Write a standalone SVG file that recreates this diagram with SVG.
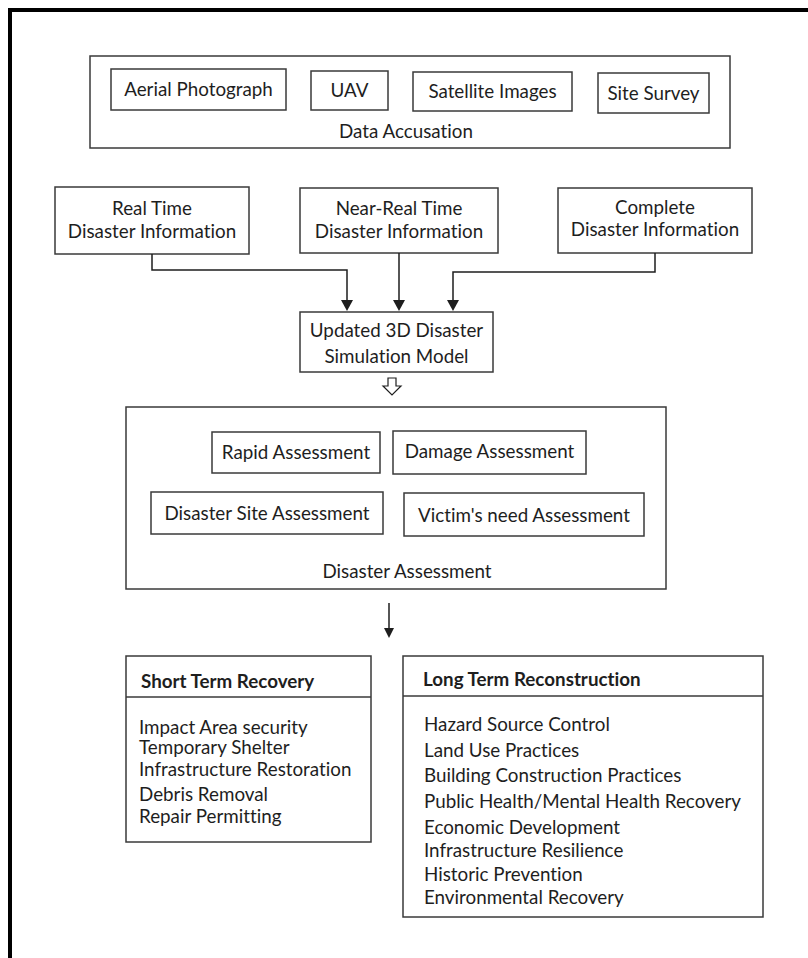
<svg xmlns="http://www.w3.org/2000/svg" width="808" height="958" viewBox="0 0 808 958">
  <style>
    .box { fill: #ffffff; stroke: #3a3a3a; stroke-width: 1.5; }
    .t { font-family: Lato, "Open Sans", sans-serif; font-size: 18.8px; fill: #1e1e1e; font-variant-ligatures: none; }
    .c { text-anchor: middle; }
    .b { font-weight: bold; }
    .edge { fill: none; stroke: #1e1e1e; stroke-width: 1.5; }
    .tip { fill: #1e1e1e; }
  </style>

  <rect width="808" height="958" fill="#ffffff"/>

  <!-- page frame: top and left rules -->
  <path d="M8,10 H808 M10,8 V958" fill="none" stroke="#000" stroke-width="4"/>

  <!-- data acquisition group -->
  <g id="data-accusation">
    <rect class="box" x="90" y="56" width="640" height="92"/>
    <text class="t c" x="406" y="138">Data Accusation</text>
  </g>
  <g id="aerial-photograph">
    <rect class="box" x="111" y="69" width="175" height="41"/>
    <text class="t c" x="198.5" y="96">Aerial Photograph</text>
  </g>
  <g id="uav">
    <rect class="box" x="311" y="71" width="77" height="39"/>
    <text class="t c" x="349.5" y="97">UAV</text>
  </g>
  <g id="satellite-images">
    <rect class="box" x="413" y="72" width="159" height="39"/>
    <text class="t c" x="492.5" y="98">Satellite Images</text>
  </g>
  <g id="site-survey">
    <rect class="box" x="598" y="73" width="111" height="40"/>
    <text class="t c" x="653.5" y="100">Site Survey</text>
  </g>

  <!-- information sources -->
  <g id="real-time">
    <rect class="box" x="55" y="187" width="194" height="67"/>
    <text class="t c" x="152" y="215">Real Time</text>
    <text class="t c" x="152" y="238">Disaster Information</text>
  </g>
  <g id="near-real-time">
    <rect class="box" x="300" y="188" width="198" height="65"/>
    <text class="t c" x="399" y="215">Near-Real Time</text>
    <text class="t c" x="399" y="238">Disaster Information</text>
  </g>
  <g id="complete">
    <rect class="box" x="558" y="188" width="194" height="65"/>
    <text class="t c" x="655" y="214">Complete</text>
    <text class="t c" x="655" y="236">Disaster Information</text>
  </g>

  <g id="simulation-model">
    <rect class="box" x="300" y="312" width="193" height="60"/>
    <text class="t c" x="396.5" y="337">Updated 3D Disaster</text>
    <text class="t c" x="396.5" y="363">Simulation Model</text>
  </g>

  <!-- assessment group -->
  <g id="disaster-assessment">
    <rect class="box" x="126" y="407" width="540" height="182"/>
    <text class="t c" x="407" y="578">Disaster Assessment</text>
  </g>
  <g id="rapid-assessment">
    <rect class="box" x="212" y="432" width="168" height="41"/>
    <text class="t c" x="296" y="459">Rapid Assessment</text>
  </g>
  <g id="damage-assessment">
    <rect class="box" x="393" y="431" width="193" height="43"/>
    <text class="t c" x="489.5" y="458">Damage Assessment</text>
  </g>
  <g id="site-assessment">
    <rect class="box" x="151" y="492" width="232" height="42"/>
    <text class="t c" x="267" y="520">Disaster Site Assessment</text>
  </g>
  <g id="needs-assessment">
    <rect class="box" x="404" y="493" width="240" height="43"/>
    <text class="t c" x="524" y="522">Victim's need Assessment</text>
  </g>

  <!-- recovery tables -->
  <g id="short-term">
    <rect class="box" x="126" y="656" width="245" height="186"/>
    <line class="box" x1="126" y1="697" x2="371" y2="697"/>
    <text class="t b" x="141" y="688">Short Term Recovery</text>
    <text class="t" x="139" y="734">Impact Area security</text>
    <text class="t" x="139" y="754">Temporary Shelter</text>
    <text class="t" x="139" y="776">Infrastructure Restoration</text>
    <text class="t" x="139" y="801">Debris Removal</text>
    <text class="t" x="139" y="823">Repair Permitting</text>
  </g>
  <g id="long-term">
    <rect class="box" x="403" y="656" width="360" height="261"/>
    <line class="box" x1="403" y1="696" x2="763" y2="696"/>
    <text class="t b" x="423" y="686">Long Term Reconstruction</text>
    <text class="t" x="424" y="731">Hazard Source Control</text>
    <text class="t" x="424" y="757">Land Use Practices</text>
    <text class="t" x="424" y="782">Building Construction Practices</text>
    <text class="t" x="424" y="808">Public Health/Mental Health Recovery</text>
    <text class="t" x="424" y="834">Economic Development</text>
    <text class="t" x="424" y="857">Infrastructure Resilience</text>
    <text class="t" x="424" y="881">Historic Prevention</text>
    <text class="t" x="424" y="904">Environmental Recovery</text>
  </g>

  <!-- connectors -->
  <g id="connectors">
    <path class="edge" d="M152,254 V270 H347 V301"/>
    <path class="tip" d="M341,300 H353 L347,311 Z"/>
    <path class="edge" d="M399,253 V301"/>
    <path class="tip" d="M393,300 H405 L399,311 Z"/>
    <path class="edge" d="M655,253 V272 H453 V301"/>
    <path class="tip" d="M447,300 H459 L453,311 Z"/>
    <!-- hollow block arrow -->
    <path d="M388,378 H396 V386 H401 L392,395 L383,386 H388 Z" fill="#ffffff" stroke="#1e1e1e" stroke-width="1.2"/>
    <path class="edge" d="M389,603 V629"/>
    <path class="tip" d="M384,628 H394 L389,638 Z"/>
  </g>
</svg>
